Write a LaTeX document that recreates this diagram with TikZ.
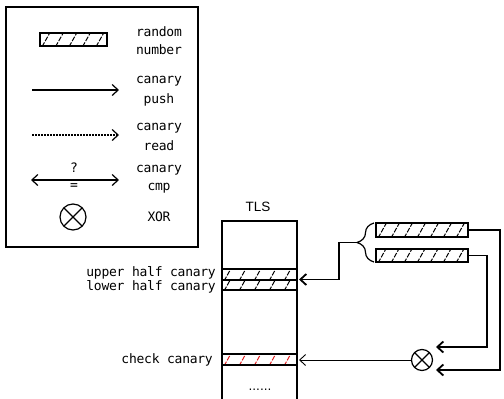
\documentclass[tikz,border=0pt]{standalone}
\usepackage{fontspec}
\setmainfont{DejaVu Sans}
\newfontfamily\mono[LetterSpace=-2]{DejaVu Sans Mono}
\newfontfamily\tlsfont{Liberation Sans}
\usetikzlibrary{arrows.meta,decorations.pathreplacing}
\definecolor{hatchred}{RGB}{225,30,30}
\tikzset{
  lbl/.style={font={\mono\fontsize{13pt}{13pt}\selectfont}, inner sep=0pt},
  hatch/.style n args={2}{path picture={
    \foreach \k in {0,...,14}{
      \draw[#1,line width=1pt,dash pattern=on 5pt off 1.5pt]
        ([xshift=\k*#2+2pt,yshift=-1pt]path picture bounding box.south west) -- ++(9pt,16pt);
    }}},
  rnd/.style={draw, line width=1.8pt, inner sep=0pt},
  xorsym/.style={draw, circle, line width=1.2pt, inner sep=0pt, path picture={
    \draw[line width=1.2pt] (path picture bounding box.north west) -- (path picture bounding box.south east);
    \draw[line width=1.2pt] (path picture bounding box.north east) -- (path picture bounding box.south west);}},
  tip/.style={-{Straight Barb[length=6pt,width=11pt]}},
  conn/.style={tip, line width=1.8pt},
  thinconn/.style={tip, line width=0.9pt},
  col/.style={line width=2pt},
}
\begin{document}
\begin{tikzpicture}[x=1pt,y=-1pt]
\useasboundingbox (0,0) rectangle (504,399);
% legend
\draw[line width=2pt] (6,7) rectangle (198,247);
\node[rnd, hatch={black}{13.5pt}, minimum width=67pt, minimum height=12.5pt] (lrnd) at (73.5,39.5) {};
\node[lbl] (t1) at (159,32) {random};
\node[lbl] (t2) at (159,50) {number};
\coordinate (p1) at (32,90); \coordinate (p2) at (119,90);
\draw[tip, line width=1.2pt] (p1) -- (p2);
\node[lbl] (t3) at (159,81) {canary};
\node[lbl] (t4) at (159,100) {push};
\coordinate (d1) at (32,135); \coordinate (d2) at (119,135);
\draw[tip, line width=1.2pt, dash pattern=on 2pt off 1pt] (d1) -- (d2);
\node[lbl] (t5) at (159,128) {canary};
\node[lbl] (t6) at (159,146) {read};
\coordinate (c1) at (31,180); \coordinate (c2) at (119,180);
\draw[{Straight Barb[length=6pt,width=11pt]}-{Straight Barb[length=6pt,width=11pt]}, line width=1.2pt] (c1) -- (c2);
\node[lbl] (q) at (74,168) {?};
\node[lbl] (eq) at (74,187) {=};
\node[lbl] (t7) at (159,170) {canary};
\node[lbl] (t8) at (159,188) {cmp};
\node[xorsym, minimum size=26pt] (lxor) at (73,217) {};
\node[lbl] (t9) at (159,217) {XOR};
% TLS column
\node[font={\tlsfont\fontsize{13.5pt}{14pt}\selectfont}, inner sep=0pt] (tls) at (258,207) {TLS};
\node[hatch={black}{15pt}, minimum width=75pt, minimum height=11pt, inner sep=0pt] (upper) at (259.5,274.5) {};
\node[hatch={black}{15pt}, minimum width=75pt, minimum height=10pt, inner sep=0pt] (lower) at (259.5,285) {};
\node[hatch={hatchred}{15pt}, minimum width=75pt, minimum height=11pt, inner sep=0pt] (check) at (259.5,359.5) {};
\draw[col] (222,400) -- (222,221) -- (297,221) -- (297,400);
\draw[col] (222,269) -- (297,269);
\draw[line width=1.1pt] (222,280) -- (297,280);
\draw[col] (222,290) -- (297,290);
\draw[col] (222,354) -- (297,354);
\draw[col] (222,365) -- (297,365);
\node[lbl, anchor=east] (uh) at (216,272.5) {upper half canary};
\node[lbl, anchor=east] (lh) at (216,286.5) {lower half canary};
\node[lbl, anchor=east] (cc) at (213,360) {check canary};
\node[font={\fontsize{12pt}{13pt}\selectfont}, inner sep=0pt] (dots) at (260,390) {......};
% right side
\node[rnd, hatch={black}{13pt}, minimum width=92pt, minimum height=14pt] (r1) at (422,230) {};
\node[rnd, hatch={black}{13pt}, minimum width=92pt, minimum height=13pt] (r2) at (422,255.5) {};
\draw[line width=1.2pt, decorate, decoration={brace, amplitude=17pt, aspect=0.5}] (374,262) -- (374,223);
\coordinate (btip) at (357,242.5);
\coordinate (bend) at (339,242.5);
\coordinate (uin) at (299,279.5);
\draw[conn] (btip) -- (bend) |- (uin);
\node[xorsym, minimum size=21pt] (xr) at (422,360) {};
\coordinate (a1) at (500,370); \coordinate (x2) at (436,370);
\coordinate (a2) at (487,347); \coordinate (x1) at (436,347);
\draw[conn] (r1.east) -| (a1) -- (x2);
\draw[conn] (r2.east) -| (a2) -- (x1);
\coordinate (cin) at (299,360);
\draw[thinconn] (xr.west) -- (cin);
\end{tikzpicture}
\end{document}
